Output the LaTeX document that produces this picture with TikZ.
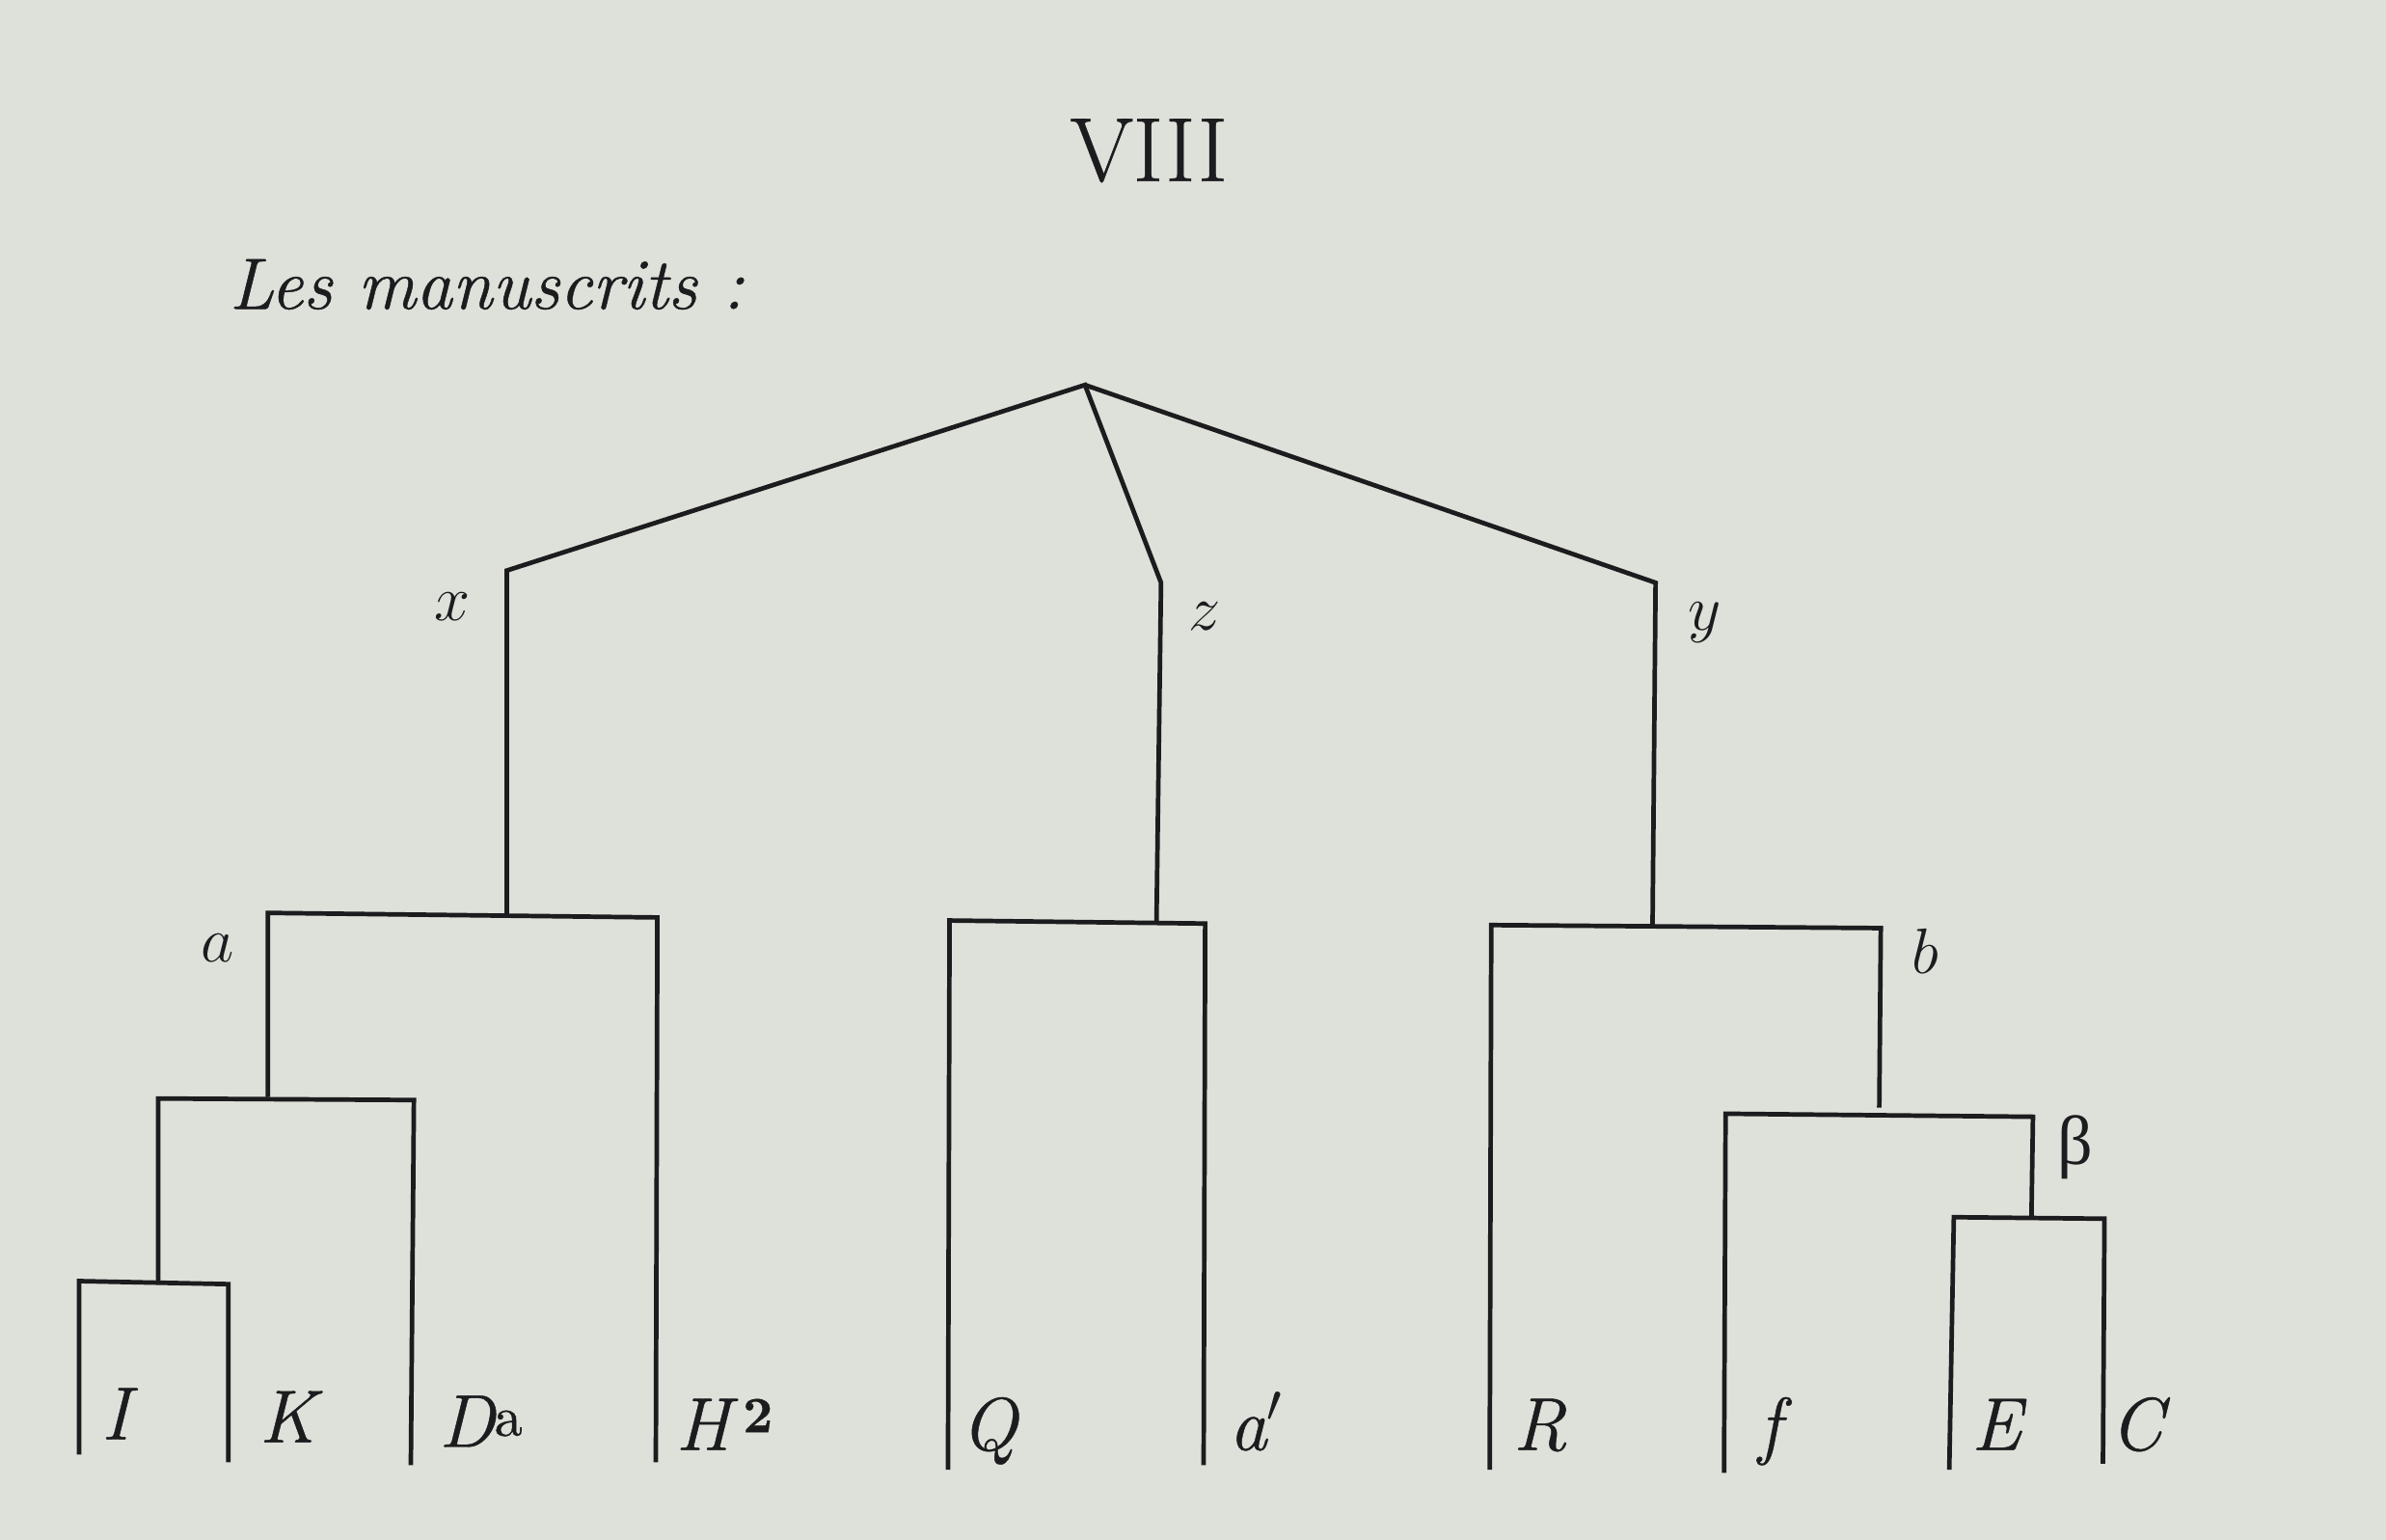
\documentclass[tikz,border=0pt]{standalone}
\usepackage{fontspec}
\setmainfont{Latin Modern Roman}[FakeBold=0.6,ItalicFeatures={FakeBold=0.6}]
\newfontfamily\greekfont{Liberation Serif}
\definecolor{paper}{RGB}{222,224,218}
\definecolor{ink}{RGB}{28,28,30}
\begin{document}
\begin{tikzpicture}[x=0.01cm,y=-0.01cm,
  edge/.style={draw=ink,line width=0.85pt,line cap=butt,line join=miter},
  leaf/.style={anchor=base,inner sep=0pt,text=ink,font=\fontsize{14}{16}\selectfont\itshape},
  lbl/.style={anchor=base,inner sep=0pt,text=ink,font=\fontsize{13}{15}\selectfont}]
\fill[paper] (0,0) rectangle (1568,1012);
\useasboundingbox (0,0) rectangle (1568,1012);
% titles
\node[anchor=base,inner sep=0pt,text=ink,font=\fontsize{17}{20}\selectfont] (title) at (755,119) {VIII};
\node[anchor=base west,inner sep=0pt,text=ink,font=\fontsize{13.6}{16}\selectfont\itshape] (sub) at (150,203) {Les manuscrits :};
% junctions
\coordinate (root) at (713,253);
\coordinate (xt) at (333,375);  \coordinate (xb) at (333,601);
\coordinate (zt) at (763,383);  \coordinate (zb) at (760,606);
\coordinate (yt) at (1088,383); \coordinate (yb) at (1086,609);
% a bracket
\coordinate (aL) at (176,600); \coordinate (aR) at (432,603);
\coordinate (aLb) at (176,721);
\coordinate (sL) at (104,722); \coordinate (sR) at (272,723);
\coordinate (sLb) at (104,842);
\coordinate (tL) at (52,842); \coordinate (tR) at (150,844);
\coordinate (Ib) at (52,956); \coordinate (Kb) at (150,961);
\coordinate (Dab) at (270,963); \coordinate (Hb) at (431,961);
% z bracket
\coordinate (qL) at (624,605); \coordinate (qR) at (792,607);
\coordinate (Qb) at (623,966); \coordinate (apb) at (791,963);
% y bracket
\coordinate (rL) at (980,608); \coordinate (rR) at (1236,610);
\coordinate (Rb) at (979,966); \coordinate (bb) at (1235,728);
\coordinate (fL) at (1134,732); \coordinate (fR) at (1336,734);
\coordinate (fb) at (1133,968); \coordinate (betab) at (1335,800);
\coordinate (eL) at (1284,800); \coordinate (eR) at (1383,801);
\coordinate (Eb) at (1281,966); \coordinate (Cb) at (1382,962);
% top branches
\draw[edge] (xb) -- (xt) -- (root) -- (zt) -- (zb);
\draw[edge] (root) -- (yt) -- (yb);
% left group
\draw[edge] (aLb) -- (aL) -- (aR) -- (Hb);
\draw[edge] (sLb) -- (sL) -- (sR) -- (Dab);
\draw[edge] (Ib) -- (tL) -- (tR) -- (Kb);
% middle group
\draw[edge] (Qb) -- (qL) -- (qR) -- (apb);
% right group
\draw[edge] (Rb) -- (rL) -- (rR) -- (bb);
\draw[edge] (fb) -- (fL) -- (fR) -- (betab);
\draw[edge] (Eb) -- (eL) -- (eR) -- (Cb);
% node labels
\node[lbl] (lx) at (297,408) {$x$};
\node[lbl] (lz) at (792,414) {$z$};
\node[lbl] (ly) at (1120,414) {$y$};
\node[lbl] (la) at (143,632) {$a$};
\node[lbl] (lb) at (1265,640) {$b$};
\node[lbl,font=\greekfont\fontsize{13}{15}\selectfont] (lbeta) at (1364,765) {β};
% leaves
\node[leaf] (I) at (76,946) {I};
\node[leaf] (K) at (189,948) {K};
\node[leaf] (Da) at (316,951) {D\raisebox{0.35ex}{\upshape\fontsize{10.5}{12}\selectfont a}};
\node[leaf] (H2) at (476,953) {H\,\raisebox{0.55ex}{\upshape\bfseries\fontsize{9.5}{11}\selectfont 2}};
\node[leaf] (Q) at (650,953) {Q};
\node[leaf] (ap) at (826,953) {a$'$};
\node[leaf] (R) at (1012,953) {R};
\node[leaf] (f) at (1163,953) {f};
\node[leaf] (E) at (1312,953) {E};
\node[leaf] (C) at (1404,953) {C};
\end{tikzpicture}
\end{document}
